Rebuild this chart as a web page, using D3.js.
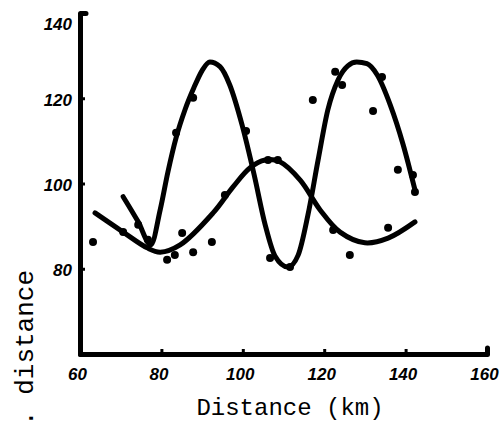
<!DOCTYPE html>
<html>
<head>
<meta charset="utf-8">
<script src="https://cdn.jsdelivr.net/npm/d3@7"></script>
<style>
  html, body { margin: 0; padding: 0; background: #fff; }
  svg { display: block; }
</style>
</head>
<body>
<svg id="chart" width="503" height="425"></svg>
<script>
// ---- data ----
const xTicks = [60, 80, 100, 120, 140, 160];
const yTicks = [80, 100, 120, 140];

// sharp oscillating series (line)
const seriesAX = [70.6, 74.3, 77.4, 79.7, 81.6, 83.6, 85.8, 88.0, 90.0, 91.9, 94.4, 96.8, 99.8, 102.8, 105.5, 107.9, 111.1, 113.6, 116.0, 118.5, 120.9, 123.4, 125.8, 128.0, 130.5, 133.0, 136.2, 139.4, 142.3];
const seriesAY = [96.9, 91.0, 85.6, 93.8, 102.7, 110.7, 117.3, 122.5, 126.5, 128.5, 127.4, 123.1, 113.8, 102.0, 90.3, 83.0, 80.4, 83.2, 92.6, 105.5, 117.3, 124.3, 127.6, 128.5, 128.1, 125.5, 118.5, 109.1, 98.5];

// smooth series (line)
const seriesBX = [63.7, 70.6, 76.5, 79.7, 84.6, 92.7, 97.6, 101.8, 105.5, 109.1, 114.1, 119.0, 123.9, 130.0, 135.7, 142.3];
const seriesBY = [93.1, 88.6, 84.9, 83.9, 85.6, 93.1, 99.2, 103.7, 105.5, 105.1, 100.8, 93.8, 88.6, 86.1, 87.2, 91.0];

// observed points
const pointsX = [63.2, 70.6, 74.3, 76.7, 81.4, 83.3, 85.1, 87.8, 92.4, 83.6, 87.8, 100.8, 95.6, 106.2, 108.6, 106.7, 111.6, 122.2, 126.3, 135.7, 117.2, 122.7, 124.4, 134.2, 132.0, 138.1, 141.8, 142.3];
const pointsY = [86.3, 88.6, 90.3, 86.8, 82.1, 83.2, 88.4, 83.9, 86.3, 111.9, 120.1, 112.3, 97.3, 105.5, 105.5, 82.5, 80.4, 89.1, 83.2, 89.6, 119.6, 126.2, 123.1, 125.0, 117.0, 103.2, 102.0, 98.0];

const xTitle = "Distance (km)";
const yTitle = ". distance";

// ---- drawing ----
const svg = d3.select("#chart");
const x = d3.scaleLinear().domain([60, 160]).range([80, 487]);
const y = d3.scaleLinear().domain([60, 140]).range([354, 13]);

const tickFont = "'Liberation Sans', Arial, sans-serif";

// x axis
const gx = svg.append("g").attr("transform", `translate(0,${y(60)})`)
  .call(d3.axisBottom(x).tickValues(xTicks).tickSizeInner(-5).tickSizeOuter(-6).tickPadding(14).tickFormat(d3.format("d")));
// y axis
const gy = svg.append("g").attr("transform", `translate(${x(60)},0)`)
  .call(d3.axisLeft(y).tickValues(yTicks).tickSizeInner(-5).tickSizeOuter(-6).tickPadding(10).tickFormat(d3.format("d")));

[gx, gy].forEach(g => {
  g.select(".domain").attr("stroke", "#000").attr("stroke-width", 5).attr("stroke-linecap", "round").attr("stroke-linejoin", "round");
  g.selectAll(".tick line").attr("stroke", "#000").attr("stroke-width", 3);
  g.selectAll(".tick text")
    .attr("fill", "#000")
    .style("font-family", tickFont)
    .style("font-size", "17px")
    .style("font-weight", "900")
    .style("font-style", "italic");
});
gx.selectAll(".tick text").attr("dx", "-3px");
gy.selectAll(".tick text").attr("dy", d => d === 140 ? "0.95em" : "0.4em");
gy.selectAll(".tick text").attr("x", -8);

const lineA = d3.line()
  .x(d => x(d[0]))
  .y(d => y(d[1]))
  .curve(d3.curveMonotoneX);
const lineB = d3.line()
  .x(d => x(d[0]))
  .y(d => y(d[1]))
  .curve(d3.curveCatmullRom.alpha(0.5));

const dataA = seriesAX.map((v, i) => [v, seriesAY[i]]);
const dataB = seriesBX.map((v, i) => [v, seriesBY[i]]);

svg.append("path").datum(dataB).attr("d", lineB)
  .attr("fill", "none").attr("stroke", "#000").attr("stroke-width", 5)
  .attr("stroke-linecap", "round").attr("stroke-linejoin", "round");
svg.append("path").datum(dataA).attr("d", lineA)
  .attr("fill", "none").attr("stroke", "#000").attr("stroke-width", 5)
  .attr("stroke-linecap", "round").attr("stroke-linejoin", "round");

svg.append("g").selectAll("circle")
  .data(pointsX.map((v, i) => [v, pointsY[i]]))
  .join("circle")
  .attr("cx", d => x(d[0]))
  .attr("cy", d => y(d[1]))
  .attr("r", 4)
  .attr("fill", "#000");

// axis titles
svg.append("text")
  .attr("x", 290).attr("y", 415)
  .attr("text-anchor", "middle")
  .style("font-family", "'Liberation Mono', 'DejaVu Sans Mono', monospace")
  .style("font-size", "24px")
  .attr("fill", "#000")
  .text(xTitle);

svg.append("text")
  .attr("transform", "translate(33,270) rotate(-90)")
  .attr("text-anchor", "end")
  .style("font-family", "'Liberation Mono', 'DejaVu Sans Mono', monospace")
  .style("font-size", "26px")
  .attr("fill", "#000")
  .text(yTitle);
</script>
</body>
</html>
